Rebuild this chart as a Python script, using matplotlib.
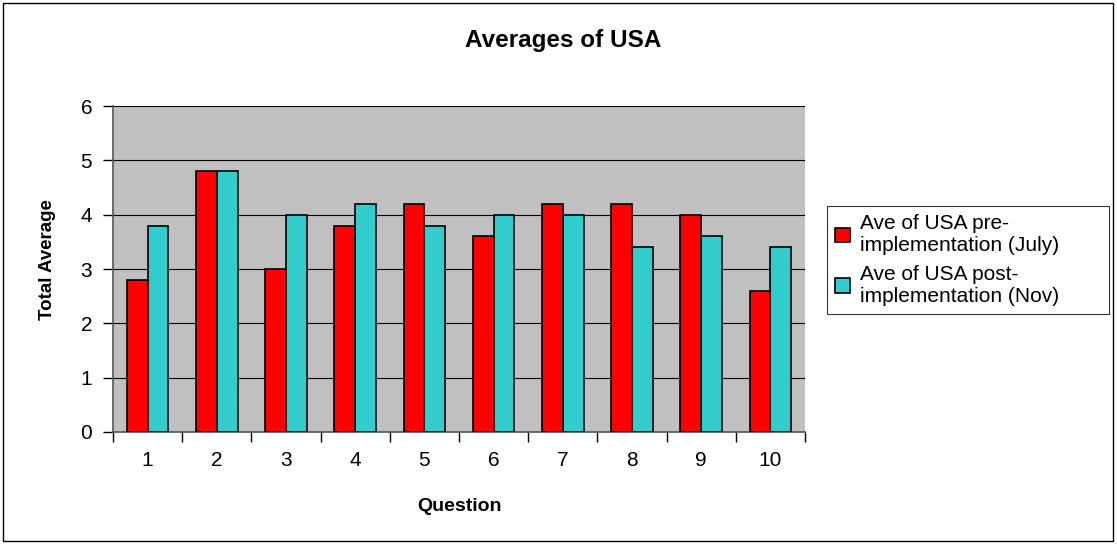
import numpy as np
import matplotlib.pyplot as plt
from matplotlib.patches import Rectangle

questions = ["1", "2", "3", "4", "5", "6", "7", "8", "9", "10"]
pre_july = [2.8, 4.8, 3.0, 3.8, 4.2, 3.6, 4.2, 4.2, 4.0, 2.6]
post_nov = [3.8, 4.8, 4.0, 4.2, 3.8, 4.0, 4.0, 3.4, 3.6, 3.4]

plt.rcParams['font.family'] = ['Liberation Sans', 'DejaVu Sans']

fig = plt.figure(figsize=(11.17, 5.44), dpi=100)
ax = fig.add_axes([0.1012, 0.2059, 0.6195, 0.5992])
ax.set_facecolor("#C0C0C0")

x = np.arange(len(questions))
w = 0.3
ax.bar(x - w / 2, pre_july, w, color="#FF0000", edgecolor="black", linewidth=1.2,
       label="Ave of USA pre-\nimplementation (July)", zorder=3)
ax.bar(x + w / 2, post_nov, w, color="#33CCCC", edgecolor="black", linewidth=1.2,
       label="Ave of USA post-\nimplementation (Nov)", zorder=3)

ax.set_xlim(-0.5, len(questions) - 0.5)
ax.set_ylim(0, 6)
ax.set_yticks(range(7))
ax.grid(axis="y", color="black", linewidth=0.8, zorder=1)

# labels under the groups, tick marks between them
ax.set_xticks(x)
ax.set_xticklabels(questions)
ax.set_xticks(np.arange(-0.5, len(questions)), minor=True)
ax.tick_params(axis="x", which="major", length=0, labelsize=15, pad=14)
ax.tick_params(axis="x", which="minor", length=7, width=1, direction="out")
ax.tick_params(axis="y", length=7, width=1, labelsize=15, pad=8)

for s in ["top", "right"]:
    ax.spines[s].set_visible(False)
for s in ["left", "bottom"]:
    ax.spines[s].set_color("#555555")
    ax.spines[s].set_linewidth(1.2)

fig.text(0.504, 1 - 47 / 544, "Averages of USA", ha="center", va="baseline",
         fontsize=17.5, fontweight="bold")
fig.text(0.411, 1 - 511 / 544, "Question", ha="center", va="baseline",
         fontsize=14, fontweight="bold")
fig.text(0.0425, 0.522, "Total Average", ha="center", va="center",
         rotation=90, fontsize=13.5, fontweight="bold")

leg = ax.legend(loc="upper left",
                bbox_to_anchor=(827 / 1117, 1 - 206 / 544, 282 / 1117, 0.0),
                bbox_transform=fig.transFigure, mode="expand", fontsize=15,
                frameon=True, fancybox=False, edgecolor="black",
                handlelength=0.7, handleheight=0.7, handletextpad=0.5,
                labelspacing=0.45, borderpad=0.4, borderaxespad=0)
leg.get_frame().set_linewidth(0.8)

fig.patches.append(Rectangle((0.003, 0.006), 0.993, 0.988, transform=fig.transFigure,
                             fill=False, edgecolor="black", linewidth=1))

fig.savefig("out.png", dpi=100)
